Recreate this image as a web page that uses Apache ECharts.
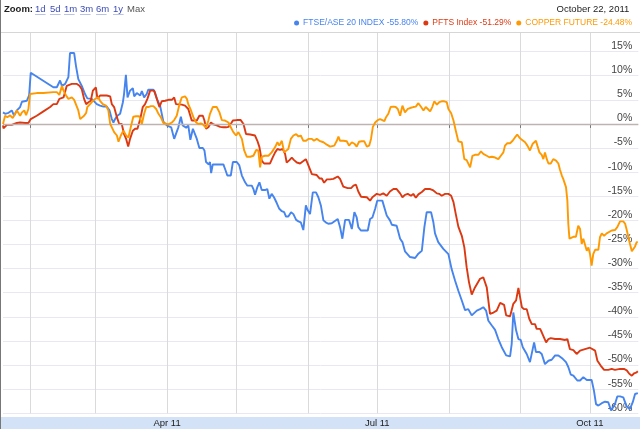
<!DOCTYPE html>
<html><head><meta charset="utf-8">
<script src="https://cdn.jsdelivr.net/npm/echarts@6/dist/echarts.min.js"></script>
<style>html,body{margin:0;padding:0;background:#fff}#c{width:640px;height:429px}</style>
</head><body><div id="c"></div>
<script>
// ---- data ----
const seriesNames = ['FTSE/ASE 20 INDEX', 'PFTS Index', 'COPPER FUTURE'];
const lastChange = [-55.80, -51.29, -24.48];
const headerDate = 'October 22, 2011';
const zoomLinks = ['1d', '5d', '1m', '3m', '6m', '1y'];
const startDate = '2011-01-20';
const endDate = '2011-10-22';
const monthStarts = ['2011-02-01','2011-03-01','2011-04-01','2011-05-01','2011-06-01','2011-07-01','2011-08-01','2011-09-01','2011-10-01'];
const labelDates = ['2011-04-01','2011-07-01','2011-10-01'];
const labelTexts = ['Apr 11','Jul 11','Oct 11'];
// [days since startDate, % change]
const ftse = [[0,2.4],[0.9,2.1],[2.4,2.3],[3.8,2.8],[4.8,1.7],[6,2.8],[7.4,3.5],[8.2,4.6],[10.3,4.8],[11.3,5.9],[12,10.6],[21.8,7.6],[23.3,7.6],[24.7,9.0],[25.5,7.9],[26.9,8.3],[28.3,9.7],[29,14.7],[30.8,14.7],[31.6,12.0],[32.6,9.3],[33.4,9.7],[34.1,7.9],[35.5,6.2],[36.5,5.3],[38.4,5.2],[39.1,5.3],[40.6,4.1],[42,3.8],[43.5,3.6],[44.9,3.6],[46.1,2.8],[47.1,1.0],[47.8,0.3],[48.5,1.0],[49.5,1.7],[50.7,2.1],[51.9,4.5],[52.4,6.2],[53.2,10.2],[53.9,5.5],[55,6.9],[56.2,7.4],[56.8,5.7],[57.9,6.4],[59.4,5.9],[60.1,6.8],[61.1,5.5],[62.2,6.2],[62.9,7.1],[65.1,7.1],[65.8,6.5],[66.6,5.2],[68,3.8],[69.4,0.5],[70.9,-0.3],[72.8,-0.7],[74.1,-3.1],[74.9,-3.3],[75.9,-0.7],[77,1.5],[77.8,-0.3],[79.3,-0.8],[80.2,-0.3],[81.1,-3.3],[82.2,-1.0],[82.8,-0.8],[83.9,-3.1],[85,-5.0],[86.5,-5.0],[87.2,-5.5],[87.9,-7.9],[88.5,-7.5],[89.1,-8.4],[89.6,-7.9],[90.1,-10.2],[90.8,-8.4],[92.5,-8.4],[95.4,-8.4],[96.4,-9.7],[97.1,-10.7],[98.6,-10.7],[99.5,-7.9],[101.2,-7.9],[102.3,-8.6],[103.4,-10.7],[104.8,-12.1],[105.8,-12.8],[107.7,-12.8],[108.4,-13.5],[109.1,-14.7],[110.1,-13.1],[111,-12.1],[112,-13.7],[113.4,-13.7],[114.4,-13.5],[115.3,-15.5],[116.3,-14.5],[117.3,-15.2],[118.5,-16.4],[119.6,-17.6],[120.7,-18.1],[121.7,-18.3],[122.5,-19.2],[123.5,-19.2],[124.7,-18.3],[125.7,-18.7],[126.9,-19.9],[127.9,-20.2],[128.9,-20.4],[130,-22.0],[131.1,-16.9],[131.8,-17.8],[132.9,-18.7],[134.1,-14.2],[135.5,-14.2],[136.5,-15.2],[137.6,-16.9],[138.7,-20.0],[139.7,-20.4],[140.8,-20.7],[142.3,-20.6],[144.9,-19.7],[145.9,-21.4],[146.9,-23.8],[148.1,-19.9],[149.8,-19.9],[151,-21.8],[152.1,-18.3],[153.1,-19.4],[153.8,-21.4],[154.9,-22.1],[157.9,-22.1],[158.9,-19.7],[159.9,-19.4],[161.1,-17.6],[162,-15.9],[164.2,-15.9],[166.1,-19.0],[167.5,-20.0],[168.3,-20.9],[170.4,-21.1],[171.9,-23.8],[172.9,-24.5],[174,-26.4],[176.2,-27.6],[178.4,-27.8],[179.8,-26.9],[181.3,-26.3],[182.4,-21.4],[183.4,-18.3],[185.3,-18.3],[186.3,-20.4],[187,-22.7],[188.4,-24.5],[190.6,-25.9],[192.8,-27.0],[194.2,-30.1],[195.7,-32.5],[197.1,-34.6],[198.6,-36.6],[200,-38.6],[201.4,-38.4],[202.9,-39.7],[205.1,-38.7],[206.5,-38.4],[207.9,-38.0],[209.1,-38.7],[210.1,-40.8],[211.6,-41.8],[213,-42.7],[214.4,-44.6],[215.9,-46.3],[217.8,-48.0],[219.5,-48.2],[220.2,-45.6],[220.9,-39.1],[222.1,-42.8],[223.1,-44.6],[224.1,-44.8],[225,-46.3],[226.7,-47.7],[228.1,-49.4],[228.9,-49.4],[229.9,-45.3],[230.7,-47.3],[232.2,-47.3],[233.2,-47.7],[234.6,-49.8],[236.1,-49.1],[237.5,-48.9],[239,-48.0],[240.4,-48.0],[242.3,-48.7],[243.7,-49.4],[244.7,-50.4],[245.8,-52.0],[246.9,-52.2],[248.6,-53.2],[249.8,-53.2],[251.2,-52.5],[252.7,-53.1],[254.8,-53.1],[255.8,-55.3],[256.7,-58.1],[257.7,-58.4],[259.2,-57.9],[260.6,-57.6],[262,-57.7],[263.2,-59.4],[263.9,-59.8],[264.9,-58.1],[265.9,-56.5],[267.1,-56.5],[268.5,-56.7],[270,-58.6],[271.4,-59.1],[272.6,-57.7],[273.6,-56.0],[274.8,-55.8]];
const pfts = [[0,-0.3],[0.2,-0.9],[1.7,-0.2],[3.8,-0.2],[4.5,0.2],[6,0.2],[7.4,0.3],[9.6,0.2],[11,0.2],[12,1.0],[14.6,1.7],[17.5,2.6],[20.4,3.5],[21.8,4.1],[23.3,4.1],[24.4,5.2],[26.2,5.5],[27.6,7.9],[29.8,8.3],[32,8.3],[33.1,7.9],[34.1,7.2],[35.1,5.2],[36,4.1],[37,4.5],[38,4.8],[38.9,6.9],[40.2,7.6],[40.9,5.2],[42,5.9],[44.9,5.9],[46.4,5.7],[47.1,4.1],[48.1,3.5],[49.3,1.4],[50.3,0],[51.4,0],[52.4,-2.1],[53.3,-3.1],[54.2,-4.7],[55,-3.1],[56.2,-1.4],[57.2,-1.0],[58.2,-1.0],[59.4,1.0],[60.5,3.5],[61.5,4.1],[62.5,5.2],[63.7,6.9],[65.4,6.9],[66.6,5.2],[67.7,3.5],[68.7,4.7],[70.2,4.8],[71.6,5.0],[73.1,5.0],[74.1,5.5],[74.9,4.1],[77.4,4.0],[78.8,3.8],[80.2,3.1],[81.7,0.7],[82.4,1.0],[83.9,0.7],[85,1.7],[86.5,1.7],[87.2,0.7],[87.9,-1.0],[88.9,-0.7],[90,0.3],[91.1,-0.1],[92.5,-0.3],[94,-0.6],[95.4,-0.7],[96.6,-0.7],[97.6,-0.6],[98.6,0],[99.5,0.7],[101.2,0.8],[102.9,0.8],[104.1,0],[105.2,-2.1],[107,-2.2],[109.1,-2.4],[110.1,-3.5],[111,-4.8],[112,-7.6],[113,-8.2],[115.6,-8.2],[116.8,-6.9],[117.8,-5.9],[118.8,-5.2],[119.9,-5.4],[121.1,-5.2],[122.1,-6.2],[122.8,-8.0],[124,-7.5],[125,-7.0],[126,-7.5],[127.2,-8.0],[128.6,-8.2],[130,-7.7],[131.1,-7.3],[132.2,-8.6],[133.7,-10.4],[135.8,-10.6],[137,-11.3],[138,-11.3],[139,-12.2],[140.2,-11.5],[141.6,-11.5],[143,-11.4],[144.9,-10.9],[145.9,-11.4],[147.3,-13.0],[149.2,-13.3],[150.7,-13.3],[151.7,-12.8],[152.8,-12.6],[153.8,-14.0],[155,-15.1],[157.5,-15.2],[158.9,-15.9],[159.9,-15.2],[161.8,-14.5],[163.2,-14.7],[164.6,-14.4],[166.1,-14.9],[167.5,-14.0],[169,-13.5],[170.4,-13.5],[171.9,-14.4],[172.9,-15.2],[174,-14.7],[175.2,-14.5],[176.6,-14.9],[177.6,-14.5],[178.7,-15.3],[179.8,-14.6],[181.3,-14.1],[182.7,-13.5],[184.9,-13.5],[186.3,-13.8],[187.8,-14.4],[188.8,-14.5],[189.9,-14.9],[191.4,-14.5],[192.8,-14.5],[194,-14.9],[195,-16.2],[196,-18.7],[197.1,-21.3],[198.6,-23.2],[199.7,-25.6],[200.7,-29.7],[201.7,-32.8],[202.9,-35.4],[204.3,-33.9],[206.5,-32.1],[207.9,-31.8],[209.4,-33.9],[210.8,-39.4],[212.3,-39.1],[213.7,-38.7],[215.2,-37.1],[216.9,-37.5],[217.8,-39.7],[219.5,-39.9],[220.2,-40.1],[220.9,-37.3],[222.1,-36.6],[223.1,-34.0],[223.8,-33.9],[224.6,-38.0],[225.5,-38.4],[226.7,-38.4],[227.8,-40.4],[228.9,-41.5],[230.3,-41.5],[231,-42.5],[232.5,-42.5],[233.2,-43.2],[233.9,-43.0],[235.1,-45.3],[236.1,-44.6],[237.1,-44.4],[239,-44.6],[241.1,-44.6],[243.3,-44.8],[244.3,-44.6],[245.4,-46.7],[246.9,-46.9],[248.3,-47.7],[249.8,-47.0],[251.9,-46.7],[254.1,-46.4],[256.3,-47.0],[257.3,-49.1],[258.7,-50.1],[260.2,-51.0],[262,-51.0],[263.5,-50.8],[264.9,-51.0],[267.1,-50.8],[268.8,-50.8],[270,-51.1],[271.1,-51.8],[272.2,-52.2],[273.2,-51.7],[274.3,-51.5],[274.8,-51.3]];
const copper = [[0,0],[0.9,1.7],[1.9,1.4],[3.1,1.8],[4.2,1.2],[5.2,2.1],[6,2.8],[6.7,2.4],[7.4,1.7],[8.2,2.4],[9.2,2.8],[10,1.8],[11,3.1],[11.7,6.2],[14.6,6.4],[17.5,6.4],[21.8,6.6],[23.3,6.6],[24.4,6.0],[25.5,7.9],[26.2,6.9],[27.3,5.9],[28.3,5.2],[29.8,5.5],[30.8,5.0],[31.6,5.3],[32.6,2.8],[33.4,1.0],[34.1,0.7],[35.1,1.7],[36,2.3],[36.5,3.5],[37.7,4.1],[38.9,4.8],[39.9,5.2],[40.6,5.3],[41.3,5.5],[42,4.8],[43.2,4.1],[44.6,3.8],[45.6,2.8],[46.4,0],[47.1,0],[48.1,-1.7],[49.3,-2.4],[50,-3.7],[51,-2.4],[52.1,-1.4],[53.3,-2.4],[54.3,-2.8],[55.3,-0.7],[56.4,1.5],[57.6,1.6],[59,1.6],[60.1,0],[61.1,2.1],[62,3.5],[62.9,3.5],[64,3.7],[65.1,3.7],[66.3,3.1],[67.3,2.1],[68.3,1.4],[69.4,0.2],[70.2,0],[71.6,-0.1],[73.1,0.3],[74.1,0.8],[75.2,1.7],[76.4,4.1],[77.4,5.5],[78.8,5.7],[79.6,5.2],[80.2,4.1],[81.3,2.9],[82.4,1.4],[83.6,0.3],[84.6,0],[85.6,0.1],[86.5,-0.1],[87,0.1],[87.9,-0.8],[88.9,0.7],[89.6,2.1],[90.8,3.5],[92.5,3.5],[93.7,2.4],[94.7,0.8],[96.1,0.7],[97.6,0.3],[98.6,-0.7],[99.7,-1.7],[100.9,-2.4],[101.9,-1.7],[102.6,-1.5],[103.4,-3.1],[104.4,-5.5],[105.5,-6.8],[107,-6.8],[108.4,-6.6],[109.6,-5.4],[110.5,-5.5],[111.3,-9.0],[112,-6.8],[113.4,-6.6],[114.9,-6.6],[116.3,-5.9],[117.8,-4.8],[118.8,-3.8],[119.6,-4.5],[120.7,-3.5],[121.7,-5.9],[122.5,-5.9],[123.5,-5.2],[124.6,-3.1],[125.7,-2.4],[126.9,-2.1],[127.9,-2.6],[128.9,-2.4],[130,-3.5],[131.2,-3.5],[132.2,-3.1],[133.7,-3.1],[134.6,-3.5],[135.8,-3.1],[137,-3.5],[138.7,-3.8],[140.2,-4.3],[141.6,-4.7],[142.3,-4.8],[143.4,-4.5],[144.5,-3.5],[145.2,-2.6],[145.9,-3.5],[147.3,-3.5],[148.8,-3.6],[149.8,-4.5],[151,-3.8],[152.1,-4.1],[153.1,-4.7],[154.1,-3.7],[155.3,-3.6],[156.4,-3.6],[157.5,-4.7],[158.5,-4.5],[159.3,-3.1],[160.1,-0.6],[161.1,0.3],[162.2,0.8],[163.2,1.0],[164.2,0.8],[165.1,0.6],[165.8,1.4],[166.8,2.1],[167.8,3.5],[169,3.6],[170,3.5],[170.9,3.1],[171.9,1.7],[172.9,3.8],[174,2.4],[175.2,3.1],[176.2,3.3],[177.6,3.5],[178.7,3.6],[179.8,4.3],[181,3.5],[182,2.8],[183,3.5],[183.9,3.1],[184.9,2.6],[185.8,3.5],[186.7,4.7],[187.8,4.0],[188.8,4.5],[189.9,4.7],[191,4.7],[192.1,4.5],[192.8,3.1],[194,2.2],[195,0.7],[196,-1.4],[197.1,-3.6],[198.6,-3.8],[199.7,-7.3],[200.7,-7.5],[201.4,-7.3],[202.2,-9.0],[203.2,-6.6],[204.3,-6.4],[205.8,-6.4],[206.9,-5.7],[207.9,-6.2],[208.7,-5.9],[209.4,-6.6],[210.5,-6.9],[211.6,-6.8],[212.6,-6.9],[213.4,-6.8],[214.4,-7.3],[215.5,-6.6],[216.6,-5.9],[217.3,-4.5],[218.3,-4.0],[219.5,-4.0],[220.6,-3.5],[221.6,-2.8],[222.6,-2.2],[223.5,-2.8],[224.6,-3.3],[226,-3.8],[227,-4.5],[228.1,-5.5],[229.3,-4.1],[230.7,-3.5],[231.3,-4.5],[232.2,-5.9],[233.2,-6.4],[233.9,-7.3],[234.6,-5.9],[235.4,-7.3],[236.1,-8.2],[237.1,-8.2],[238.2,-7.3],[239.4,-7.6],[240.4,-8.2],[241.1,-9.5],[241.9,-10.7],[242.5,-11.4],[243.3,-11.4],[243.7,-13.1],[244.3,-15.9],[244.7,-20.7],[245.2,-23.8],[245.8,-23.5],[246.9,-23.4],[248,-23.4],[249,-21.1],[249.8,-21.8],[250.5,-24.9],[251.2,-23.8],[251.9,-23.5],[252.7,-26.3],[253.4,-25.6],[254.1,-27.0],[254.8,-29.4],[255.5,-27.0],[256.3,-26.1],[257.7,-26.1],[258.4,-23.5],[259.2,-22.7],[260.2,-23.2],[261.3,-22.7],[263.5,-22.1],[264.9,-22.0],[265.9,-21.4],[267.1,-20.2],[268.5,-20.2],[269.3,-20.7],[270,-22.0],[270.7,-22.1],[271.4,-24.9],[272.2,-26.4],[272.9,-26.3],[273.6,-25.4],[274.3,-24.5],[274.8,-24.5]];

// ---- chart ----
const colors = ['#4684ee', '#dc3912', '#ff9900'];
const DAY = 86400000;
const ts = s => Date.parse(s + 'T00:00:00Z');
const t0 = ts(startDate);
const dayOf = s => Math.round((ts(s) - t0) / DAY);
const monthDays = monthStarts.map(dayOf);
const labelDays = labelDates.map(dayOf);
const FONT = 'Liberation Sans, Arial, sans-serif';

const chart = echarts.init(document.getElementById('c'), null, {renderer: 'canvas'});
const linkX = [35, 50, 64, 80, 96, 113];
const graphics = [
  {type: 'rect', z: -5, shape: {x: 0, y: 417, width: 640, height: 12}, style: {fill: '#d3e2f7'}},
  {type: 'line', z: 5, shape: {x1: 0, y1: 32.5, x2: 640, y2: 32.5}, style: {stroke: '#d6d6d6', lineWidth: 1}},
  {type: 'line', z: 5, shape: {x1: 0.5, y1: 0, x2: 0.5, y2: 429}, style: {stroke: '#777', lineWidth: 1}},
  {type: 'text', left: 4, top: 4.5, style: {text: 'Zoom:', font: 'bold 9.5px ' + FONT, fill: '#222'}},
  {type: 'text', left: 127, top: 4.5, style: {text: 'Max', font: '9.5px ' + FONT, fill: '#555'}},
  {type: 'text', right: 10.7, top: 4.5, style: {text: headerDate, font: '9.5px ' + FONT, fill: '#222'}}
];
zoomLinks.forEach((t, i) => {
  graphics.push({type: 'text', left: linkX[i], top: 4.5, style: {text: t, font: '9.5px ' + FONT, fill: '#3b4cb8'}});
  graphics.push({type: 'rect', shape: {x: linkX[i], y: 14, width: t.length * 5.3, height: 1}, style: {fill: '#b9c2ea'}});
});

const series = [ftse, pfts, copper].map((d, i) => ({
  name: seriesNames[i], type: 'line', data: d, showSymbol: false, symbol: 'none',
  color: colors[i], lineStyle: {width: 1.9, color: colors[i]}, z: 3 + i, silent: true
}));
series.unshift({
  name: 'zero', type: 'line', data: [], z: 1, silent: true,
  markLine: {silent: true, symbol: 'none', label: {show: false}, animation: false,
    lineStyle: {color: '#bfb2b2', width: 1.3, type: 'solid'}, data: [{yAxis: 0}]}
});

chart.setOption({
  animation: false,
  backgroundColor: '#fff',
  grid: {left: 3, right: 1.7, top: 32.3, bottom: 15.7, containLabel: false},
  legend: {
    right: 8, top: 18.5, padding: 0, icon: 'circle', itemWidth: 5, itemHeight: 5, itemGap: 5, selectedMode: false,
    textStyle: {fontSize: 8.5, fontFamily: FONT, padding: [0, 0, 0, -1]},
    data: seriesNames.map((n, i) => ({name: n, textStyle: {color: colors[i]}})),
    formatter: n => n + ' ' + lastChange[seriesNames.indexOf(n)].toFixed(2) + '%'
  },
  xAxis: {
    type: 'value', min: 0, max: dayOf(endDate),
    axisLine: {show: false},
    axisTick: {show: true, length: 4, lineStyle: {color: '#777'}, customValues: monthDays},
    splitLine: {show: true, lineStyle: {color: '#dadada', width: 1}},
    axisLabel: {customValues: labelDays, margin: 5, fontSize: 9.5, fontFamily: FONT, color: '#222',
      formatter: v => { const k = labelDays.indexOf(Math.round(+v)); return k >= 0 ? labelTexts[k] : ''; }}
  },
  yAxis: {
    type: 'value', position: 'right', min: -60, max: 19, interval: 5,
    axisLine: {show: false}, axisTick: {show: false},
    splitLine: {show: true, lineStyle: {color: '#e8e8ef', width: 1}},
    axisLabel: {inside: true, margin: 6, verticalAlign: 'bottom', fontSize: 10.5, fontFamily: FONT, color: '#444',
      formatter: v => (v % 5 === 0 ? v + '%' : '')}
  },
  graphic: graphics,
  series: series
});
</script>
</body></html>
